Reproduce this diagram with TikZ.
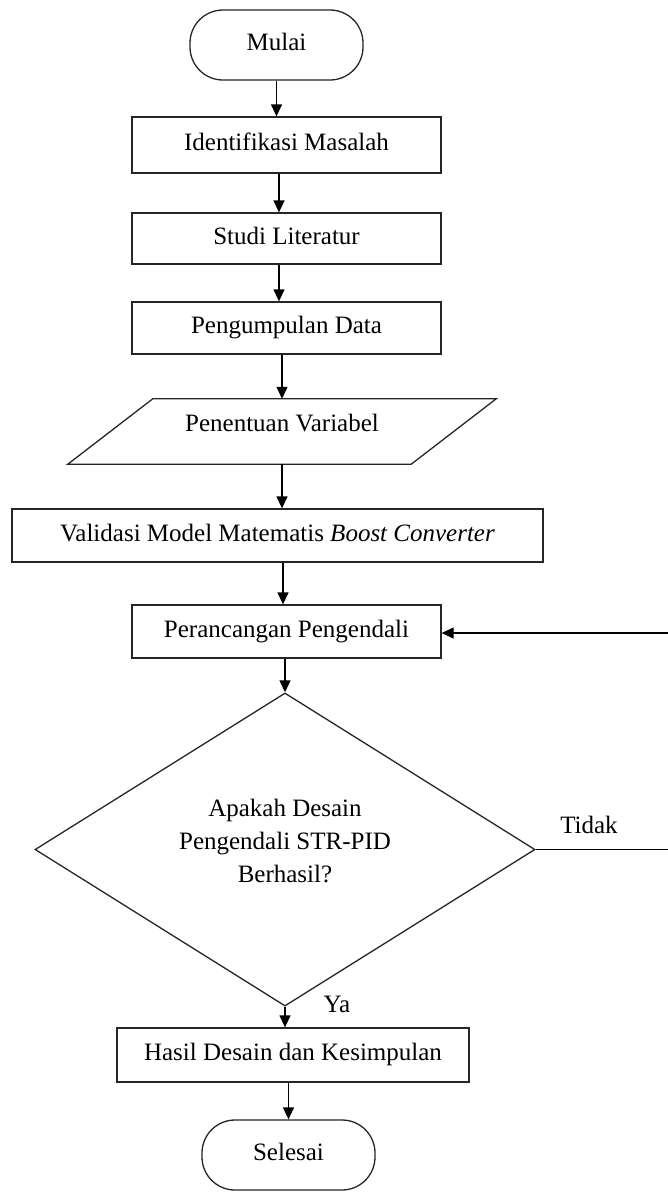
\documentclass[tikz,border=0pt]{standalone}
\usepackage{fontspec}
\setmainfont{Liberation Serif}
\usetikzlibrary{shapes.geometric,arrows.meta}
\begin{document}
\begin{tikzpicture}[x=1pt,y=-1pt,
  every node/.style={font=\fontsize{25pt}{33pt}\selectfont},
  box/.style={draw=black!85, line width=1.3pt, rectangle, inner sep=0pt, text height=17pt, text depth=6pt},
  term/.style={draw=black!85, line width=1.3pt, rectangle, rounded corners=33pt, inner sep=0pt, minimum width=173pt, minimum height=70pt, text height=17pt, text depth=6pt},
  arr/.style={line width=1.3pt, -{Triangle[length=12pt,width=11pt]}},
  ln/.style={line width=1.3pt}]
\useasboundingbox (0,0) rectangle (668,1192);
\fill[white] (0,0) rectangle (668,1192);

\node[term] (mulai) at (276.5,45) {Mulai};
\node[box, minimum width=309pt, minimum height=56pt] (ident) at (286.5,145) {Identifikasi Masalah};
\node[box, minimum width=309pt, minimum height=51pt] (studi) at (286.5,238.5) {Studi Literatur};
\node[box, minimum width=309pt, minimum height=52pt] (peng) at (286.5,328) {Pengumpulan Data};
\node[rectangle, inner sep=0pt, minimum width=258pt, minimum height=65pt, text height=18pt, text depth=18pt] (var) at (282,431.5) {Penentuan Variabel};
\draw[draw=black!85, line width=1.3pt] (var.north west) -- ([xshift=85pt]var.north east) -- (var.south east) -- ([xshift=-85pt]var.south west) -- cycle;
\node[box, minimum width=531pt, minimum height=53pt] (val) at (277.5,535.5) {Validasi Model Matematis \textit{Boost Converter}};
\node[box, minimum width=309pt, minimum height=53pt] (per) at (286.5,631.5) {Perancangan Pengendali};
\node[draw=black!85, line width=1.3pt, diamond, inner sep=0pt, minimum width=500pt, minimum height=269pt, align=center, text depth=18pt] (dec) at (285,849.5) {Apakah Desain\\Pengendali STR-PID\\Berhasil?};
\node[box, minimum width=352pt, minimum height=54pt] (hasil) at (293,1055) {Hasil Desain dan Kesimpulan};
\node[term] (sel) at (288.5,1155) {Selesai};

\node (ya) at (337,1004) {Ya};
\node (tidak) at (589,825) {Tidak};
\coordinate (ret) at (671,740);

\draw[arr] (mulai.south) -- (mulai.south |- ident.north);
\draw[arr] ([xshift=-7.5pt]ident.south) -- ([xshift=-7.5pt]studi.north);
\draw[arr] ([xshift=-7.5pt]studi.south) -- ([xshift=-7.5pt]peng.north);
\draw[arr] (var.north |- peng.south) -- (var.north);
\draw[arr] (var.south) -- (var.south |- val.north);
\draw[arr] ([xshift=-3.5pt]per.north |- val.south) -- ([xshift=-3.5pt]per.north);
\draw[arr] (dec.north |- per.south) -- (dec.north);
\draw[arr] (dec.south) -- (dec.south |- hasil.north);
\draw[arr] (sel.north |- hasil.south) -- (sel.north);
\draw[arr] (dec.east) -- (dec.east -| ret) |- ([yshift=-1.5pt]per.east);
\end{tikzpicture}
\end{document}
